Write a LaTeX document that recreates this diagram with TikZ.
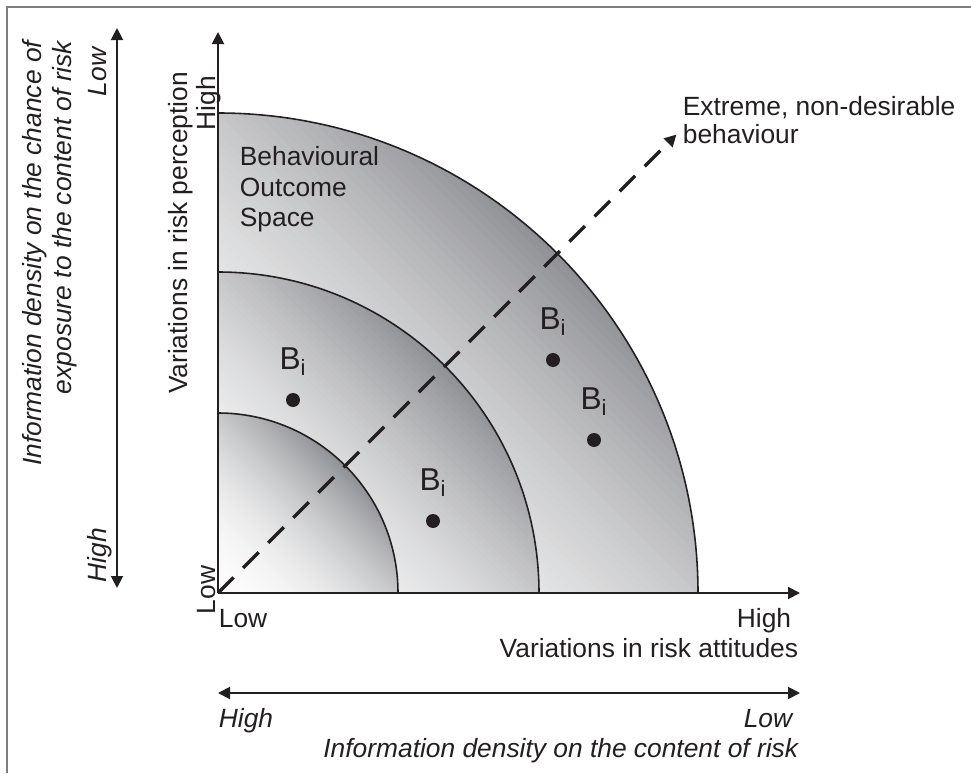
\documentclass[tikz,border=0pt]{standalone}
\usepackage{fontspec}
\setmainfont{Liberation Sans}
\usepackage{tikz}
\usepackage{xcolor}
\usetikzlibrary{arrows.meta,positioning}
\definecolor{ink}{RGB}{35,31,32}
\definecolor{bandlo}{RGB}{252,252,252}
\definecolor{bandhi}{RGB}{142,143,147}
\definecolor{framegray}{RGB}{125,125,125}

\begin{document}
\begin{tikzpicture}[line width=1pt, color=ink, font=\fontsize{15}{17.3}\selectfont,
  >={Triangle[length=0.24cm,width=0.24cm]},
  axis/.style={line width=1.1pt},
  rim/.style={line width=0.9pt},
  dot/.style={circle, fill=ink, inner sep=0pt, minimum size=0.28cm},
  bi/.style={inner sep=0pt, font=\fontsize{18}{20}\selectfont},
  lbl/.style={inner sep=0pt},
  ilbl/.style={inner sep=0pt, font=\fontsize{15}{17}\selectfont\itshape}]
\useasboundingbox (-4.36,-3.6) rectangle (15.06,11.86);
\draw[draw=framegray] (-4.22,-3.6) -- (-4.22,11.72) -- (15.06,11.72);
\coordinate (O) at (0,0);
\coordinate (ytop) at (0,11.22);
\coordinate (xend) at (11.64,0);
% outcome space, shaded along the diagonal
\foreach \r in {9.6,6.42,3.6} {
  \begin{scope}
    \clip (O) -- (\r,0) arc (0:90:\r) -- cycle;
    \foreach \k in {0,...,72} {
      \pgfmathsetmacro\sa{\k*\r/50}
      \pgfmathsetmacro\sb{(\k+1.3)*\r/50}
      \pgfmathsetmacro\tone{min(100,0.02*\k*\k)}
      \fill[bandhi!\tone!bandlo] (\sa,0) -- (\sb,0) -- (0,\sb) -- (0,\sa) -- cycle;
    }
  \end{scope}
}
\foreach \r in {3.6,6.42,9.6}
  \draw[rim] (\r,0) arc (0:90:\r);
\node[lbl, anchor=north west, align=left] (space) at (0.42,8.94) {Behavioural\\Outcome\\Space};
% extreme direction
\coordinate (tip) at (9.17,9.17);
\draw[line width=2pt, dash pattern=on 0.44cm off 0.27cm, ->] (O) -- (tip);
\node[lbl, anchor=north west, align=left, font=\fontsize{15}{15.5}\selectfont] (extreme) at (9.28,9.94) {Extreme, non-desirable\\behaviour};
% behaviours
\node[dot] (d1) at (1.5,3.86) {};
\node[dot] (d2) at (4.3,1.44) {};
\node[dot] (d3) at (6.7,4.66) {};
\node[dot] (d4) at (7.52,3.06) {};
\node[bi, above=0.32cm of d1] (b1) {B\textsubscript{i}};
\node[bi, above=0.32cm of d2] (b2) {B\textsubscript{i}};
\node[bi, above=0.32cm of d3] (b3) {B\textsubscript{i}};
\node[bi, above=0.32cm of d4] (b4) {B\textsubscript{i}};
% axes
\draw[axis, ->] (O) -- (ytop);
\draw[axis, ->] (O) -- (xend);
\node[lbl, rotate=90, anchor=base] (yname) at (-0.6,7.2) {Variations in risk perception};
\node[lbl, rotate=90, anchor=base] (yhigh) at (-0.04,9.8) {High};
\node[lbl, rotate=90, anchor=base] (ylow) at (-0.04,0.06) {Low};
\node[lbl, anchor=base west] (xlow) at (0,-0.68) {Low};
\node[lbl, anchor=base east] (xhigh) at (11.48,-0.68) {High};
\node[lbl, anchor=base east] (xname) at (11.62,-1.28) {Variations in risk attitudes};
% information density
\coordinate (lb) at (-2.02,0.1);
\coordinate (lt) at (-2.02,11.3);
\draw[axis, <->] (lb) -- (lt);
\node[ilbl, rotate=90, anchor=north east, align=right] (lname) at (-3.92,11.06) {Information density on the chance of\\exposure to the content of risk};
\node[ilbl, rotate=90, anchor=base east] (llow) at (-2.22,10.92) {Low};
\node[ilbl, rotate=90, anchor=base west] (lhigh) at (-2.22,0.2) {High};
\coordinate (bl) at (0,-2.0);
\coordinate (br) at (11.64,-2.0);
\draw[axis, <->] (bl) -- (br);
\node[ilbl, anchor=base west] (bhigh) at (0,-2.68) {High};
\node[ilbl, anchor=base east] (blow) at (11.5,-2.68) {Low};
\node[ilbl, anchor=base east] (bname) at (11.62,-3.28) {Information density on the content of risk};
\end{tikzpicture}
\end{document}
